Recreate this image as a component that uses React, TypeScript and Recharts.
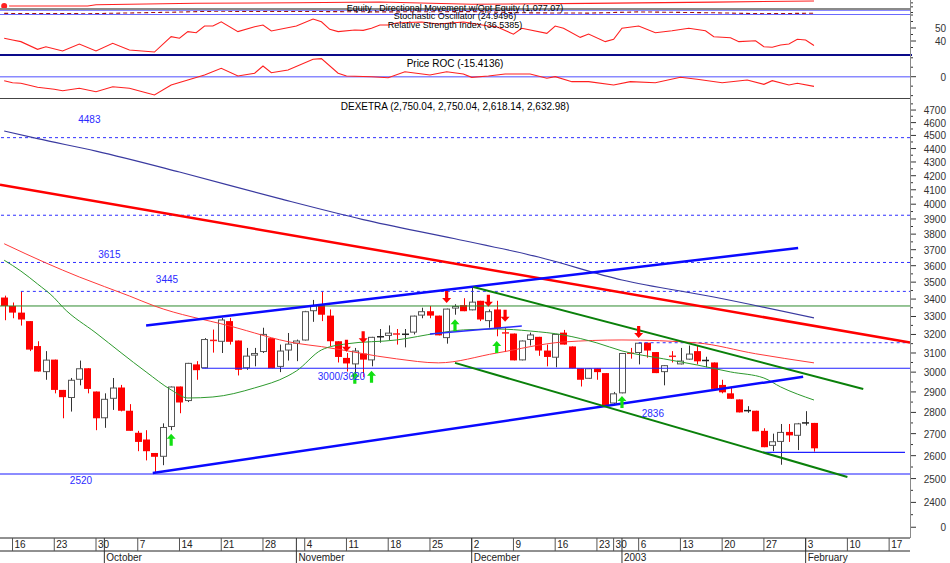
import React from "react";
import {
  ComposedChart,
  Bar,
  Line,
  Scatter,
  XAxis,
  YAxis,
  ReferenceLine,
} from "recharts";

const FONT = '"Liberation Sans", Arial, Helvetica, sans-serif';
const W = 950;
const AXIS_W = 40;
const SLOTS = 109;
const XDOM: [number, number] = [-0.5, 108.5];
const PDOM: [number, number] = [2258, 4798];

// ---- x axis (trading-day index) ----
const dayTickIdx = [1, 6, 11, 16, 21, 26, 31, 36, 41, 46, 51, 56, 61, 66, 71, 73, 76, 81, 86, 91, 96, 101, 106];
const dayTickLabels = ["16", "23", "30", "7", "14", "21", "28", "4", "11", "18", "25", "2", "9", "16", "23", "30", "6", "13", "20", "27", "3", "10", "17"];
const monthIdx = [12, 35, 56, 74, 96];
const monthLabels = ["October", "November", "December", "2003", "February"];

// ---- price axis ----
const priceLabelVals = [2300, 2400, 2500, 2600, 2700, 2800, 2900, 3000, 3100, 3200, 3300, 3400, 3500, 3600, 3700, 3800, 3900, 4000, 4100, 4200, 4300, 4400, 4500, 4600, 4700];
const priceLabelText = ["0", "2400", "2500", "2600", "2700", "2800", "2900", "3000", "3100", "3200", "3300", "3400", "3500", "3600", "3700", "3800", "3900", "4000", "4100", "4200", "4300", "4400", "4500", "4600", "4700"];
const priceTicks = Array.from({ length: 50 }, (_, k) => 2300 + k * 50);

// ---- DEXETRA daily candles ----
const open = [3409, 3360, 3322, 3274, 3137, 3000, 3065, 2910, 2870, 2961, 3020, 2902, 2772, 2866, 2922, 2808, 2704, 2673, 2612, 2595, 2731, 2927, 2855, 3040, 3020, 3170, 3160, 3274, 3167, 3020, 3086, 3105, 3180, 3027, 3113, 3150, 3167, 3330, 3365, 3305, 3163, 3074, 3040, 3097, 3061, 3185, 3192, 3205, 3200, 3210, 3305, 3330, 3305, 3180, 3345, 3365, 3335, 3390, 3274, 3340, 3212, 3205, 3061, 3170, 3187, 3113, 3075, 3210, 3135, 3020, 2966, 3020, 2995, 2843, 2893, 3100, 3100, 3155, 3105, 3000, 3085, 3040, 3065, 3110, 3056, 3050, 2935, 2893, 2863, 2805, 2808, 2713, 2644, 2662, 2708, 2690, 2748, 2750.04];
const high = [3420, 3380, 3445, 3274, 3163, 3110, 3065, 2910, 2970, 3060, 3020, 2902, 2893, 2970, 2935, 2840, 2713, 2716, 2612, 2748, 2927, 2927, 3048, 3057, 3180, 3227, 3292, 3292, 3167, 3127, 3127, 3237, 3180, 3145, 3208, 3172, 3332, 3395, 3445, 3340, 3163, 3100, 3127, 3155, 3187, 3230, 3250, 3230, 3230, 3305, 3350, 3360, 3305, 3345, 3370, 3405, 3470, 3390, 3340, 3390, 3235, 3205, 3167, 3210, 3187, 3145, 3203, 3225, 3135, 3020, 3020, 3020, 2995, 2900, 3100, 3127, 3155, 3155, 3105, 3036, 3110, 3127, 3140, 3137, 3080, 3050, 2961, 2920, 2863, 2830, 2808, 2725, 2700, 2745, 2745, 2750, 2806, 2750.04];
const low = [3279, 3290, 3249, 3110, 3003, 2961, 2893, 2772, 2804, 2933, 2893, 2716, 2727, 2812, 2805, 2713, 2620, 2579, 2520, 2558, 2716, 2796, 2850, 2961, 3020, 3102, 3100, 3145, 2983, 3012, 3030, 3100, 3020, 3000, 3060, 3057, 3167, 3270, 3274, 3137, 3050, 3003, 2975, 2975, 3030, 3155, 3170, 3145, 3130, 3200, 3290, 3290, 3195, 3150, 3310, 3330, 3335, 3274, 3237, 3190, 3105, 3061, 3061, 3140, 3085, 3030, 3025, 3145, 3020, 2927, 2966, 2961, 2835, 2836, 2893, 3070, 3040, 3075, 2995, 2933, 3050, 3040, 3065, 3040, 3025, 2915, 2893, 2866, 2800, 2798, 2711, 2638, 2620, 2560, 2662, 2625, 2738, 2618.14];
const close = [3360, 3322, 3283, 3118, 3003, 3065, 2910, 2874, 2961, 3020, 2915, 2772, 2866, 2922, 2808, 2713, 2662, 2620, 2595, 2731, 2927, 2848, 3048, 3010, 3175, 3165, 3283, 3160, 3012, 3086, 3100, 3203, 3020, 3113, 3150, 3167, 3330, 3365, 3310, 3163, 3079, 3045, 3113, 3065, 3187, 3190, 3210, 3200, 3202, 3305, 3330, 3305, 3195, 3345, 3360, 3330, 3385, 3283, 3330, 3232, 3205, 3061, 3167, 3200, 3113, 3079, 3203, 3145, 3020, 2961, 3020, 3000, 2835, 2893, 3100, 3097, 3155, 3113, 2995, 3036, 3080, 3060, 3097, 3056, 3065, 2915, 2898, 2866, 2800, 2812, 2711, 2638, 2665, 2708, 2692, 2748, 2752, 2632.98];

// ---- moving averages (read at sample days) ----
const maLongIdx = [0, 4, 11, 21, 33, 43, 54, 64, 74, 85, 97];
const maLongVal = [4534, 4475, 4381, 4227, 4038, 3896, 3770, 3654, 3513, 3412, 3292];
const maMidIdx = [0, 5, 9, 15, 18, 27, 35, 38, 47, 52, 59, 67, 74, 83, 90, 97];
const maMidVal = [3738, 3617, 3531, 3418, 3360, 3247, 3152, 3134, 3069, 3048, 3100, 3159, 3170, 3154, 3096, 3048];
const maShortIdx = [0, 2, 4, 6, 7, 11, 17, 20, 22, 25, 30, 34, 35, 38, 41, 47, 52, 55, 59, 63, 67, 71, 74, 79, 83, 87, 91, 93, 97];
const maShortVal = [3634, 3567, 3489, 3407, 3354, 3208, 3001, 2910, 2870, 2875, 2920, 2981, 3006, 3116, 3149, 3170, 3208, 3225, 3230, 3219, 3197, 3154, 3111, 3069, 3037, 3001, 2970, 2925, 2860];

// ---- indicator panels ----
const rsiIdx = [0, 1, 2, 4, 5, 7, 9, 11, 13, 15, 18, 20, 21, 22, 23, 24, 25, 26, 28, 30, 31, 32, 35, 37, 38, 39, 40, 42, 43, 44, 45, 46, 47, 50, 52, 55, 56, 58, 59, 61, 62, 65, 66, 67, 69, 70, 72, 73, 74, 76, 78, 80, 82, 84, 85, 87, 88, 90, 91, 92, 93, 94, 95, 96, 97];
const rsiVal = [42.1, 40.8, 39.5, 33.6, 35.6, 32.3, 37.7, 32.3, 38.2, 33.1, 31.5, 43.3, 42.1, 47.2, 46.4, 51.5, 51.5, 54.8, 47.2, 51, 52.3, 47.7, 51.5, 56.9, 54.8, 49, 47.2, 48.5, 48.2, 49.8, 52.3, 52.3, 53.8, 54.6, 53.1, 54.6, 53.6, 51.5, 51, 45.2, 49.8, 45.9, 51.5, 49.8, 42.8, 45.4, 39.5, 41.3, 49.8, 51.5, 46.4, 47.9, 49.8, 47.9, 43.3, 42.5, 39.5, 40.2, 35.6, 35.2, 36.9, 37.7, 41.3, 40.8, 36.54];
const rocIdx = [0, 1, 2, 4, 6, 7, 9, 11, 13, 15, 17, 18, 20, 22, 24, 26, 28, 30, 31, 32, 34, 37, 38, 40, 41, 44, 46, 48, 51, 53, 55, 56, 58, 60, 63, 65, 66, 68, 70, 73, 75, 78, 81, 83, 86, 89, 91, 92, 94, 95, 97];
const rocVal = [-6.3, -9.5, -10.5, -16.8, -20, -22.2, -18.4, -23.8, -15.9, -18.4, -25.4, -29, -13.2, -5.2, 2.7, 13.3, 1.1, 5.4, 17, 6.3, 10.6, 27.6, 28.6, 5.4, 1.1, 0, -1.6, 7.9, 2.7, 7.9, 4.3, -1, 1.1, 4.3, 4.3, -2.5, 0, -7.9, -7.9, -13.2, -7.9, -9.5, -1, -4.1, -9.5, -5.2, -12.1, -6.3, -13.2, -10.5, -15.41];
const eqIdx = [0, 10, 11, 23, 35, 45, 56, 70, 85, 97];
const eqVal = [977, 977, 1003, 1031, 1043, 1057, 1011, 1030, 1055, 1077.07];
const stochIdx = [0, 10, 20, 25, 36, 45, 56, 62, 70, 76, 85, 91, 97];
const stochVal = [20, 10, 60, 90, 85, 70, 80, 40, 30, 70, 40, 10, 24.95];

// ---- drawn trend lines: [day, price] ----
const trendStart = [[-0.5, 4136], [17, 3249], [17.8, 2524], [51, 3203], [56.2, 3471], [54, 3048]];
const trendEnd = [[108.5, 3156], [95.1, 3711], [95.7, 2976], [62, 3247], [102.9, 2915], [101, 2507]];

// ---- horizontal levels ----
const levelFull = [4483, 3925, 3620, 3360, 2520];
const levelPart = [3445, 3155, 3020, 2615];
const levelPartFrom = [2, 76, 23.7, 90.9];
const levelPartTo = [108.5, 108.5, 108.5, 107.9];

// ---- annotations ----
const annText = ["4483", "3615", "3445", "3000/3020", "2836", "2520"];
const annIdx = [10.2, 12.6, 19.5, 40.4, 77.7, 9.2];
const annPrice = [4628, 3667, 3513, 2976, 2797, 2490];
const upIdx = [20, 42, 44, 54, 59, 74];
const upTip = [2699, 3002, 3007, 3285, 3165, 2880];
const downIdx = [41, 43, 53, 58, 60, 76];
const downTip = [3107, 3152, 3377, 3356, 3271, 3181];

const at = (idx: number[], val: number[], i: number) => {
  const k = idx.indexOf(i);
  return k < 0 ? null : val[k];
};

const rows = Array.from({ length: SLOTS }, (_, i) => ({
  i,
  o: open[i] ?? null,
  h: high[i] ?? null,
  l: low[i] ?? null,
  c: close[i] ?? null,
  maLong: at(maLongIdx, maLongVal, i),
  maMid: at(maMidIdx, maMidVal, i),
  maShort: at(maShortIdx, maShortVal, i),
  rsi: at(rsiIdx, rsiVal, i),
  roc: at(rocIdx, rocVal, i),
  eq: at(eqIdx, eqVal, i),
  st: at(stochIdx, stochVal, i),
}));

const upArrows = upIdx.map((i, k) => ({ i, p: upTip[k] }));
const downArrows = downIdx.map((i, k) => ({ i, p: downTip[k] }));
const annotations = annText.map((t, k) => ({ i: annIdx[k], p: annPrice[k], t }));

const trendStyle = [
  { stroke: "#ff0000", w: 2.5 },
  { stroke: "#0a0aff", w: 2.5 },
  { stroke: "#0a0aff", w: 2.5 },
  { stroke: "#2a2aff", w: 1.5 },
  { stroke: "#0a800a", w: 2 },
  { stroke: "#0a800a", w: 2 },
];
const levelFullStyle = [
  { stroke: "#3030ff", w: 1, dash: "3 3" },
  { stroke: "#3030ff", w: 1, dash: "3 3" },
  { stroke: "#3030ff", w: 1, dash: "3 3" },
  { stroke: "#2e8b2e", w: 1, dash: undefined },
  { stroke: "#8c8cff", w: 2, dash: undefined },
];
const levelPartStyle = [
  { stroke: "#3030ff", w: 1, dash: "3 3" },
  { stroke: "#3030ff", w: 1, dash: "3 3" },
  { stroke: "#2020ff", w: 1.2, dash: undefined },
  { stroke: "#2020ff", w: 1.2, dash: undefined },
];

// ---- shapes ----
const Wick = (p: any) => {
  const d = p.payload;
  if (!d || d.h == null || !Number.isFinite(p.y) || !Number.isFinite(p.height)) return <g />;
  const cx = Math.round(p.x + p.width / 2) + 0.5;
  const up = d.c >= d.o;
  return <line x1={cx} x2={cx} y1={p.y} y2={p.y + p.height} stroke={up ? "#333" : "#ff0000"} strokeWidth={1} />;
};

const Body = (p: any) => {
  const d = p.payload;
  if (!d || d.o == null || !Number.isFinite(p.y) || !Number.isFinite(p.height)) return <g />;
  const up = d.c >= d.o;
  const x = Math.round(p.x);
  const w = 7;
  if (p.height < 2) {
    return <rect x={x} y={p.y + p.height / 2 - 0.75} width={w} height={1.5} fill={up ? "#222" : "#ff2020"} />;
  }
  if (up) {
    return <rect x={x + 0.5} y={p.y + 0.5} width={w - 1} height={p.height - 1} fill="#fff" stroke="#555" strokeWidth={1} />;
  }
  return <rect x={x} y={p.y} width={w} height={p.height} fill="#ff0000" />;
};

const UpArrow = (p: any) => {
  const { cx, cy } = p;
  if (!Number.isFinite(cx)) return <g />;
  const pts = [
    [cx, cy], [cx + 4.5, cy + 5], [cx + 1.6, cy + 5], [cx + 1.6, cy + 12],
    [cx - 1.6, cy + 12], [cx - 1.6, cy + 5], [cx - 4.5, cy + 5],
  ].map((q) => q.join(",")).join(" ");
  return <polygon points={pts} fill="#12e012" />;
};

const DownArrow = (p: any) => {
  const { cx, cy } = p;
  if (!Number.isFinite(cx)) return <g />;
  const pts = [
    [cx, cy], [cx + 4.5, cy - 5], [cx + 1.6, cy - 5], [cx + 1.6, cy - 12],
    [cx - 1.6, cy - 12], [cx - 1.6, cy - 5], [cx - 4.5, cy - 5],
  ].map((q) => q.join(",")).join(" ");
  return <polygon points={pts} fill="#ff0000" />;
};

const AnnLabel = (p: any) => {
  if (!Number.isFinite(p.cx)) return <g />;
  return (
    <text x={p.cx} y={p.cy + 3.5} textAnchor="middle" fontSize={10} fill="#2a2aff" fontFamily={FONT}>
      {p.payload.t}
    </text>
  );
};

// ---- ticks ----
const DayTick = (p: any) => {
  const k = dayTickIdx.indexOf(p.payload.value);
  return (
    <g>
      <line x1={p.x} x2={p.x} y1={p.y} y2={p.y + 13} stroke="#555" />
      <text x={p.x + 2} y={p.y + 10} fontSize={10} fill="#222" fontFamily={FONT}>
        {dayTickLabels[k]}
      </text>
    </g>
  );
};

const MonthTick = (p: any) => {
  const k = monthIdx.indexOf(p.payload.value);
  return (
    <g>
      <line x1={p.x} x2={p.x} y1={p.y - 13} y2={p.y + 12} stroke="#333" />
      <text x={p.x + 2} y={p.y + 10} fontSize={10} fill="#222" fontFamily={FONT}>
        {monthLabels[k]}
      </text>
    </g>
  );
};

const SideTick = (p: any) => {
  const v = p.payload.value;
  const k = (p.labelVals as number[]).indexOf(v);
  return (
    <g>
      <line x1={p.x} x2={p.x + (k >= 0 ? 6 : 3)} y1={p.y} y2={p.y} stroke="#333" />
      {k >= 0 && (
        <text x={p.x + 36} y={p.y + 4} textAnchor="end" fontSize={10} fill="#333" fontFamily={FONT}>
          {p.labelText[k]}
        </text>
      )}
    </g>
  );
};

const MARGIN = { top: 0, right: 0, bottom: 0, left: 0 };

const hline = (top: number, h: number, color: string, width = 911): React.CSSProperties => ({
  position: "absolute", left: 0, top, width, height: h, background: color,
});

const caption = (top: number, size = 10): React.CSSProperties => ({
  position: "absolute", left: 0, top, width: 910, textAlign: "center",
  fontSize: size, lineHeight: "8px", height: 8, color: "#000", fontFamily: FONT, whiteSpace: "nowrap",
});

const Panel = ({ top, height, dataKey, domain, ticks, labelVals, labelText, color, dash, zero }: any) => (
  <div style={{ position: "absolute", left: 0, top }}>
    <ComposedChart width={W} height={height} data={rows} margin={MARGIN}>
      <XAxis dataKey="i" type="number" domain={XDOM} hide height={0} allowDataOverflow />
      <YAxis
        orientation="right" type="number" domain={domain} ticks={ticks} interval={0}
        width={AXIS_W} tickSize={0} tickMargin={0} axisLine={false} tickLine={false}
        tick={<SideTick labelVals={labelVals} labelText={labelText} />} allowDataOverflow
      />
      {zero !== undefined && <ReferenceLine y={zero} stroke="#8a8aff" strokeWidth={1.5} />}
      <Line
        dataKey={dataKey} type="linear" connectNulls dot={false} stroke={color}
        strokeWidth={1.1} strokeDasharray={dash} isAnimationActive={false}
      />
    </ComposedChart>
  </div>
);

export default function App() {
  return (
    <div style={{ position: "absolute", left: 0, top: 0, width: W, height: 563, background: "#fff", overflow: "hidden", fontFamily: FONT }}>
      {/* equity / directional movement */}
      <Panel top={0} height={8} dataKey="eq" domain={[937, 1097]} ticks={[960, 1040]} labelVals={[]} labelText={[]} color="#ff2020" />
      <div style={hline(7.5, 2, "#8a8a8a")} />
      <div style={hline(10, 1, "#8a8aff", 910)} />
      {/* stochastic */}
      <Panel top={11} height={3} dataKey="st" domain={[0, 100]} ticks={[50]} labelVals={[]} labelText={[]} color="#a01010" dash="4 3" />
      <div style={hline(14, 1, "#6a6aff", 910)} />
      {/* RSI */}
      <Panel top={14} height={40} dataKey="rsi" domain={[30, 60.77]} ticks={[35, 40, 45, 50, 55, 60]} labelVals={[40, 50]} labelText={["40", "50"]} color="#ff2020" />
      <div style={hline(54, 2, "#0a0a8a", 912)} />
      {/* Price ROC */}
      <Panel top={56} height={41} dataKey="roc" domain={[-32.2, 32.8]} ticks={[-30, -15, 0, 15, 30]} labelVals={[0]} labelText={["0"]} color="#ff2020" zero={0} />
      <div style={hline(97.5, 1.2, "#444", 911)} />

      {/* main price panel */}
      <div style={{ position: "absolute", left: 0, top: 98 }}>
        <ComposedChart width={W} height={465} data={rows} margin={MARGIN}>
          <XAxis
            xAxisId="a" dataKey="i" type="number" domain={XDOM} ticks={dayTickIdx} interval={0}
            height={13} tickSize={0} tickMargin={0} tickLine={false} axisLine={{ stroke: "#222" }}
            tick={<DayTick />} allowDataOverflow
          />
          <XAxis
            xAxisId="b" dataKey="i" type="number" domain={XDOM} ticks={monthIdx} interval={0}
            height={12} tickSize={0} tickMargin={0} tickLine={false} axisLine={{ stroke: "#222" }}
            tick={<MonthTick />} allowDataOverflow
          />
          <XAxis xAxisId="cw" dataKey="i" type="category" hide height={0} />
          <XAxis xAxisId="cb" dataKey="i" type="category" hide height={0} />
          <YAxis
            yAxisId="p" orientation="right" type="number" scale="log" domain={PDOM}
            ticks={priceTicks} interval={0} width={AXIS_W} tickSize={0} tickMargin={0}
            tickLine={false} axisLine={false}
            tick={<SideTick labelVals={priceLabelVals} labelText={priceLabelText} />}
            allowDataOverflow
          />

          {levelFull.map((v, k) => (
            <ReferenceLine key={"lf" + k} xAxisId="a" yAxisId="p" y={v}
              stroke={levelFullStyle[k].stroke} strokeWidth={levelFullStyle[k].w}
              strokeDasharray={levelFullStyle[k].dash} />
          ))}
          {levelPart.map((v, k) => (
            <ReferenceLine key={"lp" + k} xAxisId="a" yAxisId="p"
              segment={[{ x: levelPartFrom[k], y: v }, { x: levelPartTo[k], y: v }]}
              stroke={levelPartStyle[k].stroke} strokeWidth={levelPartStyle[k].w}
              strokeDasharray={levelPartStyle[k].dash} />
          ))}

          <Line xAxisId="a" yAxisId="p" dataKey="maLong" type="monotone" connectNulls dot={false}
            stroke="#3a3aa0" strokeWidth={1.2} isAnimationActive={false} />
          <Line xAxisId="a" yAxisId="p" dataKey="maMid" type="monotone" connectNulls dot={false}
            stroke="#ff3a3a" strokeWidth={1} isAnimationActive={false} />
          <Line xAxisId="a" yAxisId="p" dataKey="maShort" type="monotone" connectNulls dot={false}
            stroke="#2e9a2e" strokeWidth={1} isAnimationActive={false} />

          {trendStart.map((s, k) => (
            <ReferenceLine key={"tr" + k} xAxisId="a" yAxisId="p"
              segment={[{ x: s[0], y: s[1] }, { x: trendEnd[k][0], y: trendEnd[k][1] }]}
              stroke={trendStyle[k].stroke} strokeWidth={trendStyle[k].w} />
          ))}

          <Bar xAxisId="cw" yAxisId="p" barSize={1}
            dataKey={(d: any) => (d.h == null ? null : [d.l, d.h])}
            shape={<Wick />} isAnimationActive={false} />
          <Bar xAxisId="cb" yAxisId="p" barSize={7}
            dataKey={(d: any) => (d.o == null ? null : [Math.min(d.o, d.c), Math.max(d.o, d.c)])}
            shape={<Body />} isAnimationActive={false} />

          <Scatter xAxisId="a" yAxisId="p" data={upArrows} dataKey="p" shape={<UpArrow />} isAnimationActive={false} />
          <Scatter xAxisId="a" yAxisId="p" data={downArrows} dataKey="p" shape={<DownArrow />} isAnimationActive={false} />
          <Scatter xAxisId="a" yAxisId="p" data={annotations} dataKey="p" shape={<AnnLabel />} isAnimationActive={false} />
        </ComposedChart>
      </div>

      {/* right axis spine */}
      <div style={{ position: "absolute", left: 909.5, top: 0, width: 1.6, height: 538, background: "#8a8a8a" }} />

      <div style={caption(3.5, 9)}>Equity , Directional Movement w/Opt Equity (1,077.07)</div>
      <div style={caption(12, 9)}>Stochastic Oscillator (24.9496)</div>
      <div style={caption(20.5, 9)}>Relative Strength Index (36.5385)</div>
      <div style={caption(59.5)}>Price ROC (-15.4136)</div>
      <div style={caption(103)}>DEXETRA (2,750.04, 2,750.04, 2,618.14, 2,632.98)</div>
    </div>
  );
}
